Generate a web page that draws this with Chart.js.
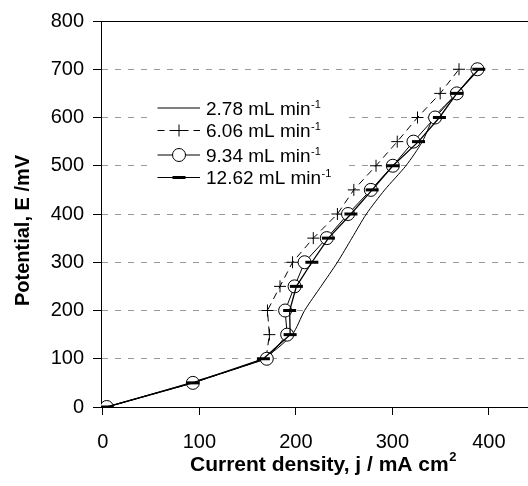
<!DOCTYPE html>
<html>
<head>
<meta charset="utf-8">
<script src="https://cdn.jsdelivr.net/npm/chart.js@4.4.1/dist/chart.umd.min.js"></script>
<style>
  html, body { margin: 0; padding: 0; background: #fff; }
  #wrap { width: 528px; height: 486px; }
</style>
</head>
<body>
<div id="wrap"><canvas id="chart" width="528" height="486"></canvas></div>
<script>
// potential levels (mV) shared by all four runs
const potential = [0, 50, 100, 150, 200, 250, 300, 350, 400, 450, 500, 550, 600, 650, 700];

// current density (mA cm-2), one list per flow rate
const j278 = [4, 90, 165, 196, 209, 226, 243, 258, 273, 292, 314, 331, 343, 367, 389];
const j606 = [4, 93, 169, 172.5, 170.5, 183.5, 196.5, 218, 243, 260, 283, 305, 326, 349.5, 369];
const j934 = [4, 93.2, 169.8, 190.9, 188.8, 198.6, 209, 232, 254, 277.6, 300.4, 321.8, 344.2, 366.7, 388.1];
const j1262 = [4, 93, 166.3, 194, 193.5, 200.5, 216.5, 233.7, 257, 279, 300.4, 327, 348.7, 366.7, 389.5];

const seriesLabels = ["2.78 mL min", "6.06 mL min", "9.34 mL min", "12.62 mL min"];
const xTicks = [0, 100, 200, 300, 400];
const yTicks = [0, 100, 200, 300, 400, 500, 600, 700, 800];

const FONT = "'Liberation Sans', Arial, Helvetica, sans-serif";
Chart.defaults.font.family = FONT;
Chart.defaults.color = "#000";

function pts(xs) {
    return xs.map((x, i) => ({ x: x, y: potential[i] }));
}

const datasets = [
    {
        label: seriesLabels[0], data: pts(j278), showLine: true,
        borderColor: "#000", borderWidth: 1, tension: 0.25,
        pointRadius: 0, pointHoverRadius: 0, order: 4
    },
    {
        label: seriesLabels[1], data: pts(j606), showLine: true,
        borderColor: "#000", borderWidth: 1, borderDash: [7, 5],
        pointStyle: "cross", pointRadius: 6, pointBorderWidth: 1,
        pointBorderColor: "#000", order: 3
    },
    {
        label: seriesLabels[2], data: pts(j934), showLine: true,
        borderColor: "#000", borderWidth: 1,
        pointStyle: "circle", pointRadius: 6.5, pointBorderWidth: 1,
        pointBorderColor: "#000", pointBackgroundColor: "#fff", order: 2
    },
    {
        label: seriesLabels[3], data: pts(j1262), showLine: true,
        borderColor: "#000", borderWidth: 1.3,
        pointStyle: "line", pointRadius: 6.5, pointBorderWidth: 3,
        pointBorderColor: "#000", order: 1
    }
];

// legend box drawn inside the plot, over the grid but under the data
const legendBox = {
    id: "legendBox",
    beforeDatasetsDraw(chart) {
        const ctx = chart.ctx;
        const rowsY = [108, 130.5, 155, 177.5];
        ctx.save();
        ctx.fillStyle = "#fff";
        ctx.fillRect(150, 92, 196, 98);
        datasets.forEach((ds, i) => {
            const y = rowsY[i];
            ctx.strokeStyle = "#000";
            ctx.lineWidth = 1;
            ctx.setLineDash(ds.borderDash || []);
            ctx.beginPath();
            ctx.moveTo(157.5, y);
            ctx.lineTo(200, y);
            ctx.stroke();
            ctx.setLineDash([]);
            if (ds.pointRadius > 0) {
                ctx.fillStyle = ds.pointBackgroundColor || "#000";
                ctx.strokeStyle = "#000";
                ctx.lineWidth = ds.pointBorderWidth;
                Chart.helpers.drawPoint(ctx, {
                    pointStyle: ds.pointStyle, radius: ds.pointRadius,
                    borderWidth: ds.pointBorderWidth, rotation: 0
                }, 179, y);
            }
            ctx.fillStyle = "#000";
            ctx.textBaseline = "alphabetic";
            ctx.textAlign = "left";
            ctx.font = "19px " + FONT;
            const base = y + 6.5;
            ctx.fillText(ds.label, 206, base);
            const w = ctx.measureText(ds.label).width;
            ctx.font = "11px " + FONT;
            ctx.fillText("-1", 206 + w + 0.5, base - 7);
        });
        ctx.restore();
    }
};

// frame top line and the two axis titles
const frameAndTitles = {
    id: "frameAndTitles",
    afterDraw(chart) {
        const ctx = chart.ctx;
        const a = chart.chartArea;
        ctx.save();
        ctx.strokeStyle = "#000";
        ctx.lineWidth = 1;
        ctx.beginPath();
        ctx.moveTo(a.left, a.top + 0.5);
        ctx.lineTo(a.right, a.top + 0.5);
        ctx.stroke();

        ctx.fillStyle = "#000";
        ctx.textBaseline = "alphabetic";
        // x title
        ctx.font = "bold 21px " + FONT;
        ctx.textAlign = "left";
        const xt = "Current density, j / mA cm";
        ctx.fillText(xt, 190, 471);
        const xw = ctx.measureText(xt).width;
        ctx.font = "bold 13px " + FONT;
        ctx.fillText("2", 190 + xw + 0.5, 461);
        // y title
        ctx.translate(28.5, 230.5);
        ctx.rotate(-Math.PI / 2);
        ctx.textAlign = "center";
        ctx.font = "bold 20px " + FONT;
        ctx.fillText("Potential, E /mV", 0, 0);
        ctx.restore();
    }
};

new Chart(document.getElementById("chart"), {
    type: "scatter",
    data: { datasets: datasets },
    options: {
        responsive: false,
        animation: false,
        events: [],
        layout: { autoPadding: false, padding: { top: 18, right: 0, bottom: 0, left: 0 } },
        plugins: { legend: { display: false }, tooltip: { enabled: false } },
        scales: {
            x: {
                type: "linear", min: -2, max: 440.5,
                afterBuildTicks: s => { s.ticks = xTicks.map(v => ({ value: v })); },
                afterFit: s => { s.height = 79; s.paddingLeft = 0; s.paddingRight = 0; },
                grid: { drawOnChartArea: false, tickLength: 8, tickColor: "#000" },
                border: { color: "#000", width: 1 },
                ticks: { font: { size: 20 }, color: "#000", padding: 15, maxRotation: 0 }
            },
            y: {
                type: "linear", min: 0, max: 800,
                afterBuildTicks: s => { s.ticks = yTicks.map(v => ({ value: v })); },
                afterFit: s => { s.width = 101; },
                grid: {
                    color: c => (c.tick && (c.tick.value === 0 || c.tick.value === 800)) ? "rgba(0,0,0,0)" : "#9a9a9a",
                    tickLength: 8, tickColor: "#000", lineWidth: 1
                },
                border: { color: "#000", width: 1, dash: [6, 7] },
                ticks: { font: { size: 20 }, color: "#000", padding: 9 }
            }
        }
    },
    plugins: [legendBox, frameAndTitles]
});
</script>
</body>
</html>
